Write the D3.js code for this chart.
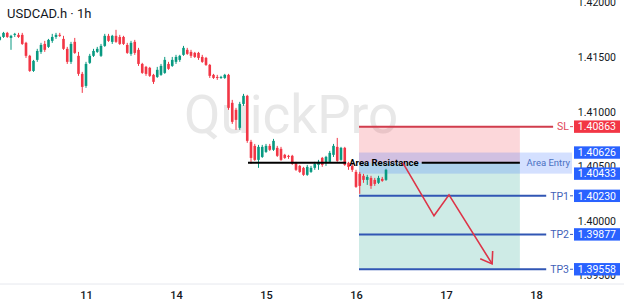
<!DOCTYPE html>
<html><head><meta charset="utf-8">
<script src="https://cdn.jsdelivr.net/npm/d3@7"></script>
<style>html,body{margin:0;padding:0;background:#fff;overflow:hidden}svg{display:block;font-family:Roboto,"Noto Sans",sans-serif}</style>
</head><body><svg id="c" width="624" height="307"></svg>
<script>
// ---- data ----
const hours = d3.range(-23, 81); // hourly candles, 0 = start of day "11"
const opens = [1.41657,1.41684,1.41721,1.41675,1.41703,1.41703,1.41703,1.41630,1.41511,1.41373,1.41474,1.41547,1.41620,1.41593,1.41648,1.41684,1.41703,1.41666,1.41575,1.41456,1.41639,1.41511,1.41346,
1.41236,1.41447,1.41511,1.41547,1.41511,1.41602,1.41694,1.41639,1.41694,1.41684,1.41684,1.41611,1.41529,1.41639,1.41566,1.41437,1.41410,1.41401,1.41337,1.41318,1.41337,1.41355,1.41437,1.41419,
1.41456,1.41474,1.41520,1.41566,1.41547,1.41538,1.41538,1.41501,1.41492,1.41428,1.41337,1.41318,1.41309,1.41309,1.41337,1.41081,1.41017,1.40852,1.41071,1.41145,1.40724,1.40687,1.40559,1.40586,
1.40632,1.40687,1.40651,1.40669,1.40660,1.40605,1.40596,1.40596,1.40532,1.40504,1.40486,1.40422,1.40449,1.40486,1.40513,1.40577,1.40532,1.40541,1.40605,1.40678,1.40559,1.40669,1.40532,1.40504,
1.40449,1.40431,1.40413,1.40376,1.40394,1.40376,1.40349,1.40385,1.40376];
const highs = [1.41694,1.41730,1.41730,1.41703,1.41721,1.41721,1.41721,1.41639,1.41520,1.41474,1.41575,1.41630,1.41648,1.41666,1.41712,1.41721,1.41721,1.41694,1.41593,1.41639,1.41675,1.41547,1.41364,
1.41456,1.41529,1.41575,1.41593,1.41620,1.41712,1.41712,1.41703,1.41749,1.41703,1.41694,1.41630,1.41648,1.41657,1.41584,1.41447,1.41419,1.41410,1.41346,1.41410,1.41437,1.41501,1.41456,1.41501,
1.41520,1.41520,1.41602,1.41584,1.41566,1.41547,1.41547,1.41520,1.41501,1.41437,1.41346,1.41337,1.41328,1.41346,1.41346,1.41108,1.41035,1.41090,1.41163,1.41154,1.40742,1.40705,1.40696,1.40696,
1.40705,1.40705,1.40751,1.40687,1.40678,1.40614,1.40605,1.40605,1.40541,1.40513,1.40495,1.40513,1.40504,1.40541,1.40559,1.40586,1.40596,1.40641,1.40705,1.40760,1.40678,1.40678,1.40541,1.40522,
1.40468,1.40449,1.40431,1.40422,1.40413,1.40394,1.40413,1.40403,1.40477];
const lows = [1.41648,1.41675,1.41675,1.41566,1.41684,1.41675,1.41611,1.41492,1.41364,1.41364,1.41456,1.41529,1.41547,1.41584,1.41630,1.41666,1.41684,1.41566,1.41437,1.41437,1.41529,1.41328,1.41172,
1.41218,1.41437,1.41501,1.41538,1.41501,1.41593,1.41639,1.41620,1.41630,1.41611,1.41611,1.41529,1.41511,1.41520,1.41419,1.41346,1.41328,1.41318,1.41254,1.41309,1.41328,1.41346,1.41383,1.41410,
1.41437,1.41456,1.41511,1.41520,1.41492,1.41492,1.41474,1.41447,1.41419,1.41309,1.41300,1.41291,1.41300,1.41300,1.41017,1.40888,1.40834,1.40834,1.41053,1.40715,1.40522,1.40550,1.40486,1.40577,
1.40623,1.40641,1.40641,1.40586,1.40550,1.40568,1.40568,1.40513,1.40458,1.40440,1.40413,1.40413,1.40440,1.40468,1.40468,1.40495,1.40504,1.40532,1.40586,1.40541,1.40550,1.40504,1.40468,1.40449,
1.40303,1.40248,1.40349,1.40330,1.40294,1.40321,1.40339,1.40358,1.40367];
const closes = [1.41684,1.41721,1.41684,1.41694,1.41712,1.41684,1.41620,1.41511,1.41373,1.41465,1.41556,1.41611,1.41566,1.41657,1.41684,1.41703,1.41694,1.41575,1.41456,1.41620,1.41538,1.41346,1.41227,
1.41437,1.41511,1.41556,1.41575,1.41602,1.41694,1.41648,1.41694,1.41639,1.41620,1.41620,1.41538,1.41630,1.41538,1.41437,1.41355,1.41346,1.41328,1.41273,1.41383,1.41419,1.41474,1.41392,1.41474,
1.41501,1.41511,1.41584,1.41529,1.41511,1.41501,1.41492,1.41456,1.41428,1.41328,1.41309,1.41309,1.41318,1.41337,1.41035,1.40907,1.40925,1.41071,1.41145,1.40733,1.40577,1.40559,1.40678,1.40678,
1.40687,1.40651,1.40733,1.40596,1.40559,1.40577,1.40586,1.40522,1.40468,1.40449,1.40422,1.40495,1.40486,1.40522,1.40541,1.40513,1.40586,1.40623,1.40687,1.40550,1.40669,1.40513,1.40495,1.40468,
1.40312,1.40321,1.40376,1.40403,1.40321,1.40339,1.40394,1.40367,1.40468];

const dayTicks = [0, 24, 48, 72, 96, 120];
const dayLabels = ["11", "14", "15", "16", "17", "18"];
const priceTicks = [1.395, 1.400, 1.405, 1.410, 1.415, 1.420];

const levelNames = ["SL", "TP1", "TP2", "TP3"];
const levelPrices = [1.40863, 1.40230, 1.39877, 1.39558];
const entryZone = [1.40626, 1.40433];
const entryLabel = "Area Entry";
const resistancePrice = 1.40532;
const resistanceLabel = "Area Resistance";
const resistanceHours = [43.2, 115.7];
const positionHours = [72.8, 115.7];
const entryZoneEndHour = 129.6;
const arrowHours = [84.5, 92.8, 96.8, 108.3];
const arrowPrices = [1.40532, 1.40047, 1.40239, 1.39607];
const titleText = "USDCAD.h · 1h";
const watermark = "QuickPro";

// ---- scales ----
const svg = d3.select("#c");
const x = d3.scaleLinear().domain([0, 24]).range([86, 176]);
const y = d3.scaleLinear().domain([1.395, 1.42]).range([275.6, 2.4]);

const candles = hours.map((h, i) => ({h, o: opens[i], hi: highs[i], lo: lows[i], c: closes[i]}));

// watermark
svg.append("text").attr("x", 184).attr("y", 133).attr("font-size", 53)
  .attr("fill", "#e8e8e8").text(watermark);

// title
svg.append("text").attr("x", 7).attr("y", 18).attr("font-size", 13).attr("fill", "#131722").text(titleText);

// position tool regions
const gReg = svg.append("g");
gReg.append("rect").attr("x", x(positionHours[0])).attr("width", x(positionHours[1]) - x(positionHours[0]))
  .attr("y", y(levelPrices[0])).attr("height", y(resistancePrice) - y(levelPrices[0]))
  .attr("fill", "rgba(242,54,69,0.2)");
gReg.append("rect").attr("x", x(positionHours[0])).attr("width", x(positionHours[1]) - x(positionHours[0]))
  .attr("y", y(resistancePrice)).attr("height", y(levelPrices[3]) - y(resistancePrice))
  .attr("fill", "rgba(8,153,129,0.2)");
gReg.append("rect").attr("x", x(positionHours[0])).attr("width", x(entryZoneEndHour) - x(positionHours[0]))
  .attr("y", y(entryZone[0])).attr("height", y(entryZone[1]) - y(entryZone[0]))
  .attr("fill", "rgba(41,98,255,0.2)");
svg.append("text").attr("x", x(entryZoneEndHour) - 2).attr("y", (y(entryZone[0]) + y(entryZone[1])) / 2)
  .attr("dy", "0.35em").attr("text-anchor", "end").attr("font-size", 9.5).attr("fill", "#4a70c2").text(entryLabel);

// candles
const bw = 2.6;
const gC = svg.append("g");
candles.forEach(d => {
  const col = d.c >= d.o ? "#089981" : "#f23645";
  gC.append("line").attr("x1", x(d.h)).attr("x2", x(d.h)).attr("y1", y(d.hi)).attr("y2", y(d.lo))
    .attr("stroke", col).attr("stroke-width", 1);
  const top = y(Math.max(d.o, d.c)), bot = y(Math.min(d.o, d.c));
  gC.append("rect").attr("x", x(d.h) - bw / 2).attr("width", bw).attr("y", top).attr("height", Math.max(1, bot - top))
    .attr("fill", col);
});

// resistance line with label
const rx0 = x(resistanceHours[0]), rx1 = x(resistanceHours[1]), ry = y(resistancePrice);
const rcx = (rx0 + rx1) / 2;
const rt = svg.append("text").attr("x", rcx).attr("y", ry).attr("dy", "0.35em")
  .attr("text-anchor", "middle").attr("font-size", 9.5).attr("font-weight", "bold").attr("fill", "#000").text(resistanceLabel);
const rw = rt.node().getComputedTextLength();
svg.append("line").attr("x1", rx0).attr("x2", rcx - rw / 2 - 3).attr("y1", ry).attr("y2", ry)
  .attr("stroke", "#000").attr("stroke-width", 2);
svg.append("line").attr("x1", rcx + rw / 2 + 3).attr("x2", rx1).attr("y1", ry).attr("y2", ry)
  .attr("stroke", "#000").attr("stroke-width", 2);

// SL / TP lines with names
levelNames.forEach((n, i) => {
  const isSL = i === 0;
  const lineCol = isSL ? "#d13c4c" : "#3156b4";
  const txtCol = isSL ? "#e0475a" : "#3f5fb8";
  const py = y(levelPrices[i]);
  const t = svg.append("text").attr("x", 569).attr("y", py).attr("dy", "0.35em").attr("text-anchor", "end")
    .attr("font-size", 10.5).attr("fill", txtCol).text(n);
  const tw = t.node().getComputedTextLength();
  svg.append("line").attr("x1", x(positionHours[0])).attr("x2", 569 - tw - 4).attr("y1", py).attr("y2", py)
    .attr("stroke", lineCol).attr("stroke-width", 2);
  svg.append("line").attr("x1", 570).attr("x2", 573).attr("y1", py).attr("y2", py).attr("stroke", txtCol).attr("stroke-width", 1);
});

// arrow
const apts = arrowHours.map((h, i) => [x(h), y(arrowPrices[i])]);
svg.append("path").attr("d", d3.line()(apts)).attr("fill", "none").attr("stroke", "#dd3448").attr("stroke-width", 1.6);
{
  const [p1, p2] = [apts[apts.length - 2], apts[apts.length - 1]];
  const ang = Math.atan2(p2[1] - p1[1], p2[0] - p1[0]);
  const L = 13, spread = 0.6;
  const a1 = [p2[0] - L * Math.cos(ang - spread), p2[1] - L * Math.sin(ang - spread)];
  const a2 = [p2[0] - L * Math.cos(ang + spread), p2[1] - L * Math.sin(ang + spread)];
  svg.append("path").attr("d", d3.line()([a1, p2, a2])).attr("fill", "none").attr("stroke", "#dd3448").attr("stroke-width", 1.6);
}

// price axis
const gY = svg.append("g").attr("transform", "translate(616,0)")
  .call(d3.axisRight(y).tickValues(priceTicks).tickFormat(d3.format(".5f")).tickSize(0));
gY.select(".domain").remove();
gY.selectAll("text").attr("x", 0).attr("text-anchor", "end").attr("font-size", 10.5).attr("fill", "#131722")
  .attr("font-family", "Roboto");

// level price boxes
const boxPrices = [levelPrices[0], entryZone[0], entryZone[1], levelPrices[1], levelPrices[2], levelPrices[3]];
const boxCols = ["#f23645", "#2962ff", "#2962ff", "#2962ff", "#2962ff", "#2962ff"];
boxPrices.forEach((p, i) => {
  svg.append("rect").attr("x", 574).attr("width", 46).attr("y", y(p) - 6.2).attr("height", 12.4).attr("fill", boxCols[i]);
  svg.append("text").attr("x", 616).attr("y", y(p)).attr("dy", "0.35em").attr("text-anchor", "end")
    .attr("font-size", 10.5).attr("fill", "#fff").text(d3.format(".5f")(p));
});

// time axis
svg.append("line").attr("x1", 0).attr("x2", 624).attr("y1", 284).attr("y2", 284).attr("stroke", "#e6e8ee");
const gX = svg.append("g").attr("transform", "translate(0,284)")
  .call(d3.axisBottom(x).tickValues(dayTicks).tickFormat((d, i) => dayLabels[i]).tickSize(0));
gX.select(".domain").remove();
gX.selectAll("text").attr("y", 11).attr("dy", "0.35em").attr("font-size", 11).attr("font-weight", 500)
  .attr("fill", "#131722").attr("font-family", "Roboto");
</script></body></html>
